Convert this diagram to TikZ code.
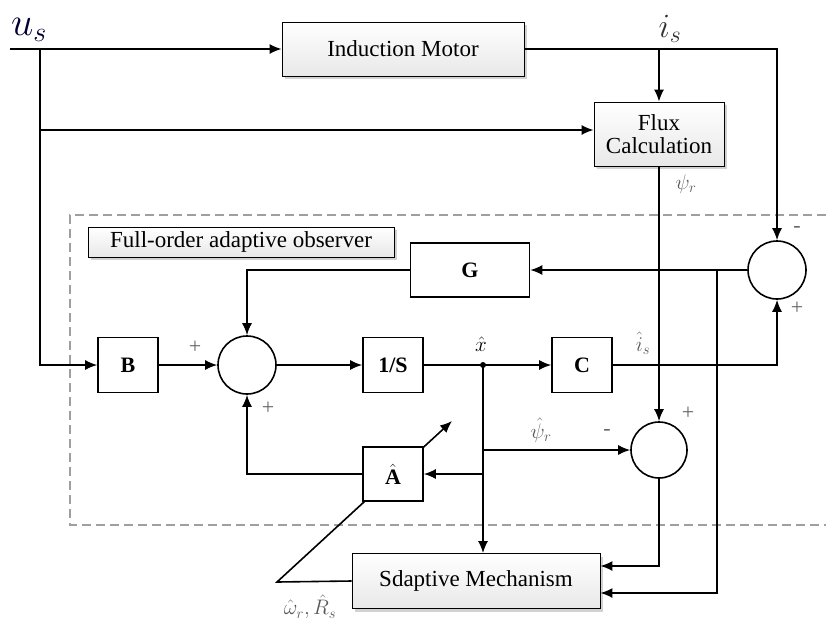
\RequirePackage{fix-cm}
\documentclass[tikz,border=0pt]{standalone}
\usepackage{fontspec}
\setmainfont{Liberation Serif}
\usetikzlibrary{arrows.meta,shadows}
\begin{document}
\begin{tikzpicture}[x=1pt,y=-1pt,
  wire/.style={line width=1.6pt},
  arr/.style={wire,-{Latex[length=12pt,width=10pt]}},
  blk/.style={draw,line width=1.6pt,fill=white,font=\fontsize{22}{24}\selectfont\bfseries,inner sep=0pt},
  gbox/.style={draw,line width=0.8pt,top color=white,bottom color=gray!18,font=\fontsize{23}{26}\selectfont,inner sep=0pt,align=center,
     drop shadow={shadow xshift=3pt,shadow yshift=-3pt,fill=gray!70}},
  sum/.style={draw,circle,line width=1.6pt,minimum size=58pt,inner sep=0pt,fill=white},
  sign/.style={font=\fontsize{22}{24}\selectfont,text=gray!80!black},
  lbl/.style={font=\fontsize{21}{23}\selectfont,text=gray!70!black,inner sep=1pt}
]
\useasboundingbox (0,0) rectangle (826,621);
% dashed observer frame
\draw[dashed,dash pattern=on 9pt off 5pt,gray!75,line width=1.5pt] (826,215) -- (70,215) -- (70,525) -- (826,525);
% nodes
\node[gbox,minimum width=242pt,minimum height=54pt] (motor) at (403,49) {Induction Motor};
\node[gbox,minimum width=130pt,minimum height=64pt,drop shadow={shadow xshift=2pt,shadow yshift=-2pt,fill=gray!40}] (flux) at (659,134) {Flux\\[-3pt]Calculation};
\node[gbox,minimum width=306pt,minimum height=30pt,drop shadow={shadow xshift=2pt,shadow yshift=-2pt,fill=gray!40}] (obs) at (241,242) {Full-order adaptive observer};
\node[blk,minimum width=119pt,minimum height=54pt] (G) at (470,270) {G};
\node[sum] (sumR) at (777,270) {};
\node[blk,minimum width=60pt,minimum height=55pt] (B) at (128,365) {B};
\node[sum] (sumL) at (247,365) {};
\node[blk,minimum width=60pt,minimum height=55pt] (inv) at (393,365) {1/S};
\coordinate (xd) at (483,365);
\node[blk,minimum width=60pt,minimum height=55pt] (C) at (582,365) {C};
\node[sum,minimum size=56pt] (sumF) at (659,450) {};
\node[gbox,minimum width=248pt,minimum height=55pt] (mech) at (476,581) {Sdaptive Mechanism};
% adjustable-parameter arrow through A
\coordinate (dk) at (277,582);
\coordinate (dend) at (452,421);
\draw[arr] (mech.west) -- (dk) -- (dend);
\node[blk,minimum width=60pt,minimum height=54pt] (A) at (393,474) {$\hat{\mathbf{A}}$};
% input wiring
\coordinate (us) at (10,49);
\coordinate (j1) at (40,49);
\coordinate (j2) at (40,130);
\coordinate (jm) at (659,49);
\draw[arr] (us) -- (motor.west);
\draw[arr] (j1) |- (B.west);
\draw[arr] (j2) -- (flux.west |- j2);
\draw[arr] (motor.east) -| (sumR.north);
\draw[arr] (jm) -- (flux.north);
\draw[arr] (flux.south) -- (sumF.north);
% observer loop
\coordinate (rb) at (717,270);
\draw[arr] (sumR.west) -- (G.east);
\draw[arr] (G.west) -| (sumL.north);
\draw[arr] (B.east) -- (sumL.west);
\draw[arr] (sumL.east) -- (inv.west);
\draw[wire] (inv.east) -- (xd);
\draw[arr] (xd) -- (C.west);
\draw[arr] (C.east) -| (sumR.south);
\draw[arr] (xd) -- (xd |- mech.north);
\draw[arr] (xd |- sumF) -- (sumF.west);
\draw[arr] (xd |- A) -- (A.east);
\draw[arr] (A.west) -| (sumL.south);
\draw[arr] (sumF.south) |- ([yshift=15pt]mech.east);
\draw[arr] (rb) |- ([yshift=-12pt]mech.east);
\fill (xd) circle (3pt);
% labels
\node[font=\fontsize{40}{42}\selectfont,text=black!80!blue] (lus) at (29,30) {$u_s$};
\node[font=\fontsize{34}{36}\selectfont,text=black!80] (lis) at (670,29) {$i_s$};
\node[lbl] (lpsi) at (686,184) {$\psi_r$};
\node[lbl,text=black] (lx) at (481,344) {$\hat{x}$};
\node[lbl] (lis2) at (643,343) {$\hat{i}_s$};
\node[lbl] (lpsih) at (541,430) {$\hat{\psi}_r$};
\node[lbl] (lwr) at (310,607) {$\hat{\omega}_r,\hat{R}_s$};
\node[sign] at (195,347) {+};
\node[sign] at (268,408) {+};
\node[sign] at (797,229) {-};
\node[sign] at (797,308) {+};
\node[sign] at (688,413) {+};
\node[sign] at (607,432) {-};
\end{tikzpicture}
\end{document}
